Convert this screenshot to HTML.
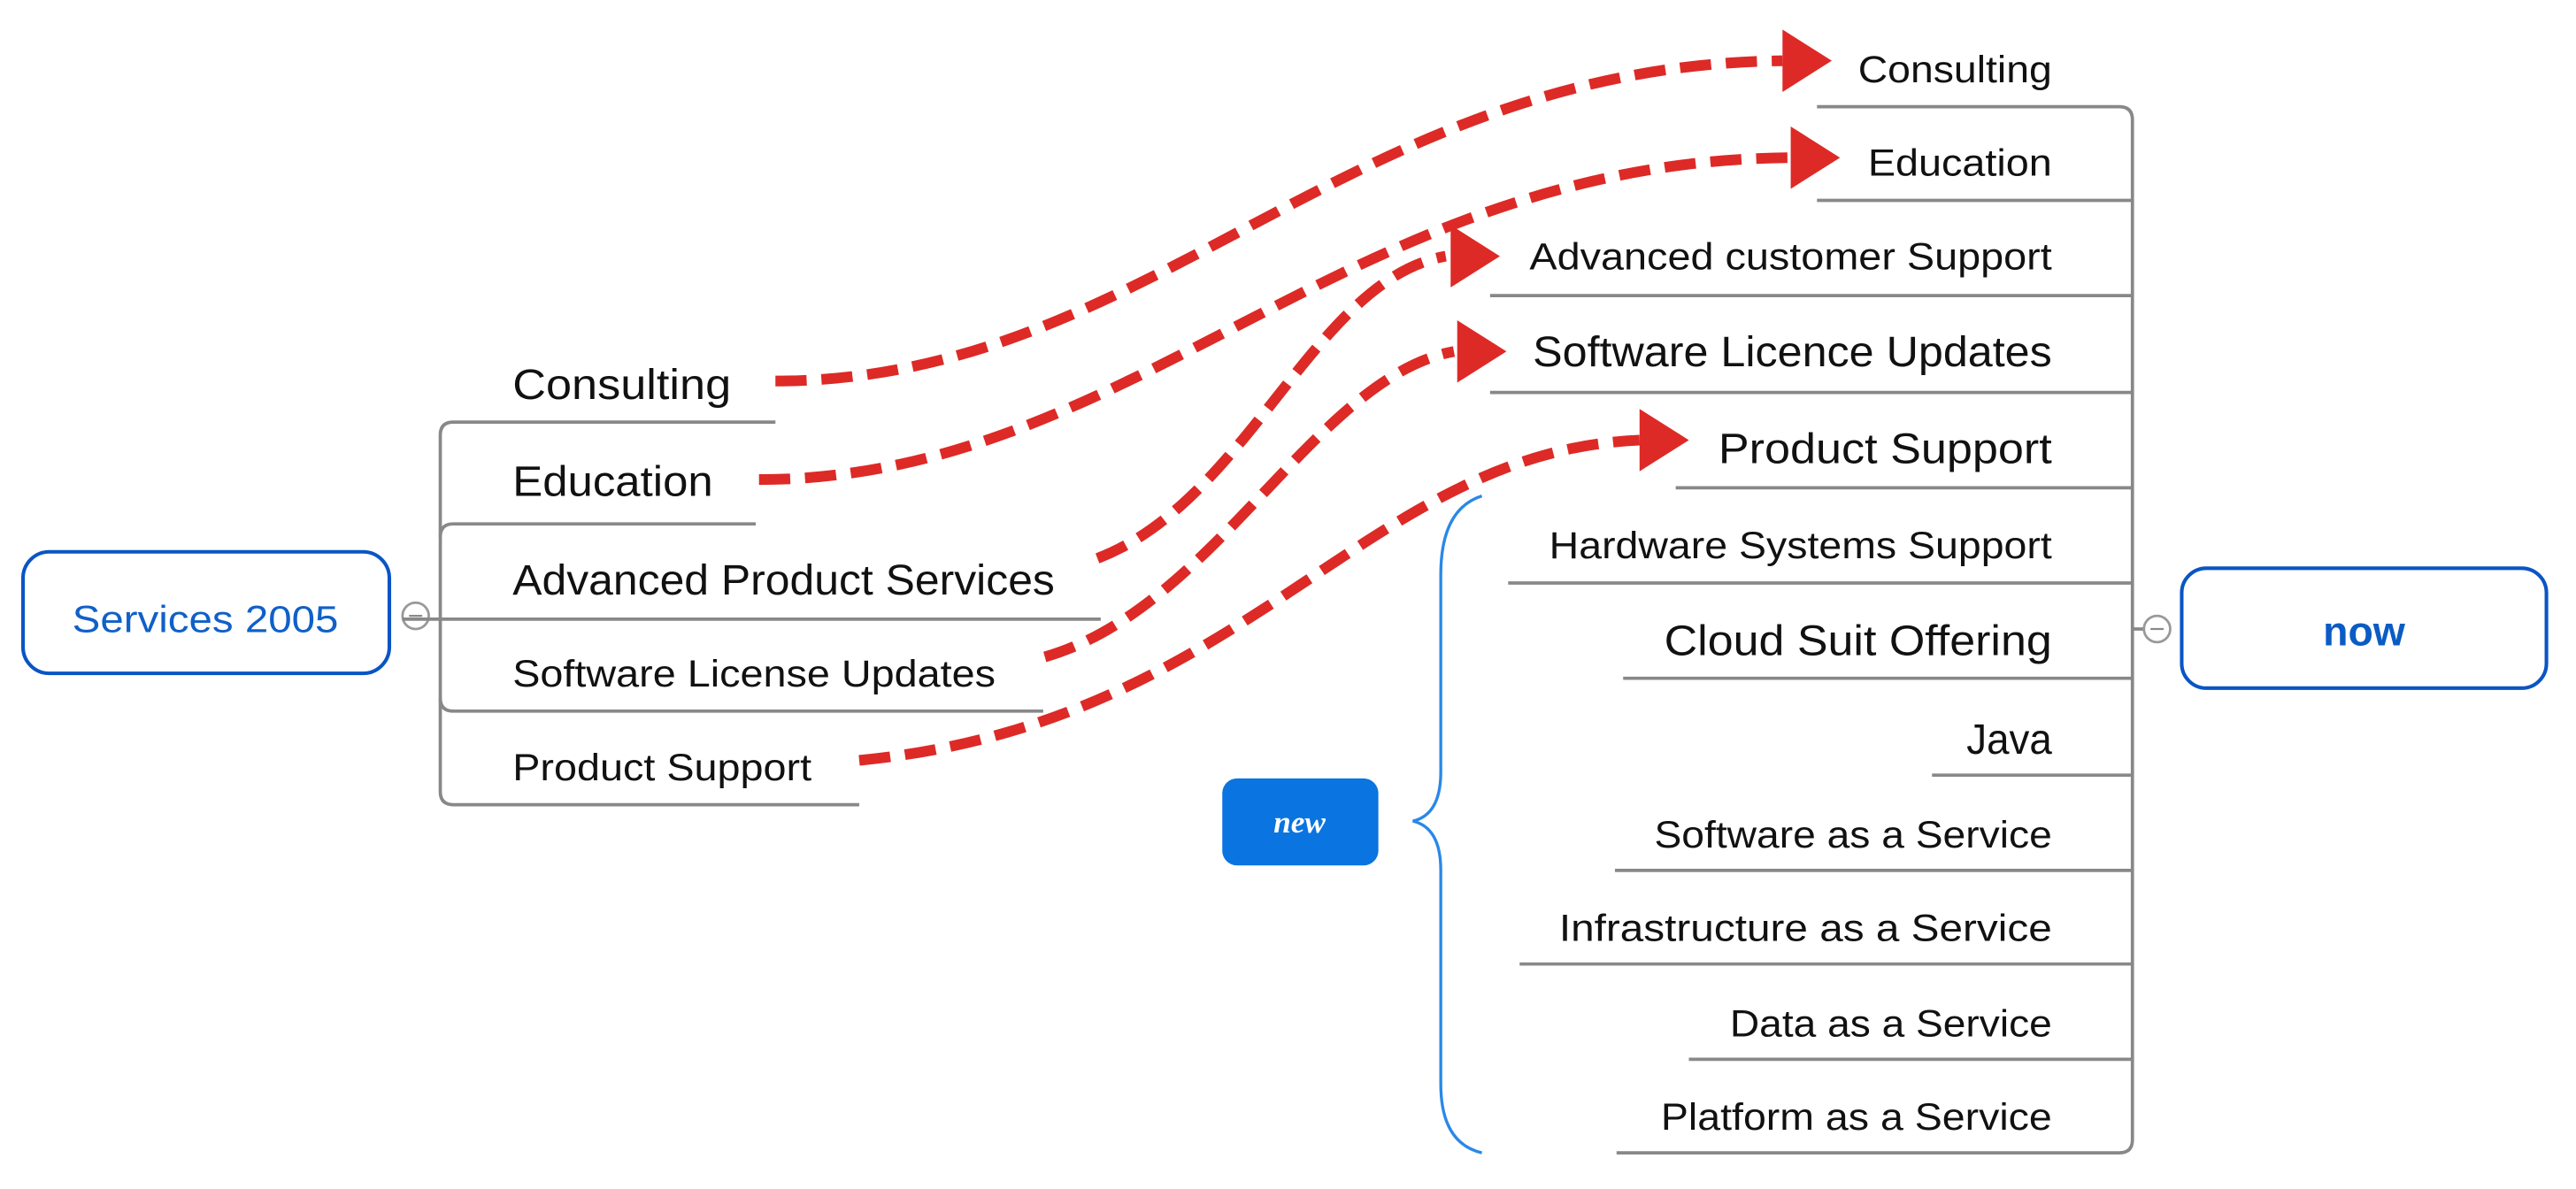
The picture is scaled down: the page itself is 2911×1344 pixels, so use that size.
<!DOCTYPE html>
<html><head><meta charset="utf-8"><style>
html,body{margin:0;padding:0;background:#fff;}
svg{display:block;}
text{font-family:"Liberation Sans",sans-serif;fill:#111;}
</style></head><body>
<svg width="2911" height="1344" viewBox="0 0 1568 724" preserveAspectRatio="none" xmlns="http://www.w3.org/2000/svg">
<!-- left root -->
<rect x="14" y="336" width="223" height="74" rx="16" fill="#fff" stroke="#0a55c4" stroke-width="2.2"/>
<text x="125" y="385" font-size="23" text-anchor="middle" style="fill:#1060c8" textLength="162" lengthAdjust="spacingAndGlyphs">Services 2005</text>
<circle cx="253" cy="375" r="8" fill="#fff" stroke="#999" stroke-width="1.5"/>
<line x1="249" y1="375" x2="257" y2="375" stroke="#888" stroke-width="1.2"/>
<g fill="none" stroke="#888" stroke-width="2">
<path d="M472,257 H276 Q268,257 268,265 V482 Q268,490 276,490 H523"/>
<path d="M460,319 H276 Q268,319 268,327"/>
<path d="M245,377 H670"/>
<path d="M268,425 Q268,433 276,433 H635"/>
</g>
<text x="312" y="243" font-size="26" textLength="133" lengthAdjust="spacingAndGlyphs">Consulting</text>
<text x="312" y="302" font-size="26" textLength="122" lengthAdjust="spacingAndGlyphs">Education</text>
<text x="312" y="362" font-size="26" textLength="330" lengthAdjust="spacingAndGlyphs">Advanced Product Services</text>
<text x="312" y="418" font-size="23" textLength="294" lengthAdjust="spacingAndGlyphs">Software License Updates</text>
<text x="312" y="475" font-size="23" textLength="182" lengthAdjust="spacingAndGlyphs">Product Support</text>

<!-- right tree -->
<g fill="none" stroke="#888" stroke-width="2">
<path d="M1106,65 H1290 Q1298,65 1298,73 V694 Q1298,702 1290,702 H984"/>
<path d="M1106,122 H1298"/>
<path d="M907,180 H1298"/>
<path d="M907,239 H1298"/>
<path d="M1020,297 H1298"/>
<path d="M918,355 H1298"/>
<path d="M988,413 H1298"/>
<path d="M1176,472 H1298"/>
<path d="M983,530 H1298"/>
<path d="M925,587 H1298"/>
<path d="M1028,645 H1298"/>
<path d="M1298,383 H1305"/>
</g>
<g text-anchor="end">
<text x="1249" y="50" font-size="23" textLength="118" lengthAdjust="spacingAndGlyphs">Consulting</text>
<text x="1249" y="107" font-size="23" textLength="112" lengthAdjust="spacingAndGlyphs">Education</text>
<text x="1249" y="164" font-size="23" textLength="318" lengthAdjust="spacingAndGlyphs">Advanced customer Support</text>
<text x="1249" y="223" font-size="26" textLength="316" lengthAdjust="spacingAndGlyphs">Software Licence Updates</text>
<text x="1249" y="282" font-size="26" textLength="203" lengthAdjust="spacingAndGlyphs">Product Support</text>
<text x="1249" y="340" font-size="23" textLength="306" lengthAdjust="spacingAndGlyphs">Hardware Systems Support</text>
<text x="1249" y="399" font-size="26" textLength="236" lengthAdjust="spacingAndGlyphs">Cloud Suit Offering</text>
<text x="1249" y="459" font-size="26" textLength="52" lengthAdjust="spacingAndGlyphs">Java</text>
<text x="1249" y="516" font-size="23" textLength="242" lengthAdjust="spacingAndGlyphs">Software as a Service</text>
<text x="1249" y="573" font-size="23" textLength="300" lengthAdjust="spacingAndGlyphs">Infrastructure as a Service</text>
<text x="1249" y="631" font-size="23" textLength="196" lengthAdjust="spacingAndGlyphs">Data as a Service</text>
<text x="1249" y="688" font-size="23" textLength="238" lengthAdjust="spacingAndGlyphs">Platform as a Service</text>
</g>
<circle cx="1313" cy="383" r="8" fill="#fff" stroke="#999" stroke-width="1.5"/>
<line x1="1309" y1="383" x2="1317" y2="383" stroke="#888" stroke-width="1.2"/>
<rect x="1328" y="346" width="222" height="73" rx="15" fill="#fff" stroke="#0a55c4" stroke-width="2.2"/>
<text x="1439" y="393" font-size="25" font-weight="bold" text-anchor="middle" style="fill:#0a5cc4">now</text>

<!-- new node + brace -->
<rect x="744" y="474" width="95" height="53" rx="9" fill="#0a74e0"/>
<text x="791" y="507" font-size="19" font-weight="bold" font-style="italic" text-anchor="middle" style="fill:#fff;font-family:'Liberation Serif',serif">new</text>
<path d="M902,302 Q877,310 877,350 V470 Q877,496 860,500 Q877,504 877,530 V660 Q877,696 902,702" fill="none" stroke="#2a88e8" stroke-width="1.8"/>

<!-- red dashed arrows -->
<g fill="none" stroke="#dd2a26" stroke-width="6.5" stroke-dasharray="19 9">
<path d="M472,232 C700,232 820,40 1085,37"/>
<path d="M462,292 C690,292 820,98 1090,96"/>
<path d="M668,340 C760,305 800,170 880,156"/>
<path d="M636,400 C740,370 800,230 885,214"/>
<path d="M523,463 C760,440 830,275 998,268"/>
</g>
<g fill="#dd2a26">
<polygon points="1085,18 1115,37 1085,56"/>
<polygon points="1090,77 1120,96 1090,115"/>
<polygon points="883,137 913,156 883,175"/>
<polygon points="887,195 917,214 887,233"/>
<polygon points="998,249 1028,268 998,287"/>
</g>
</svg>
</body></html>
